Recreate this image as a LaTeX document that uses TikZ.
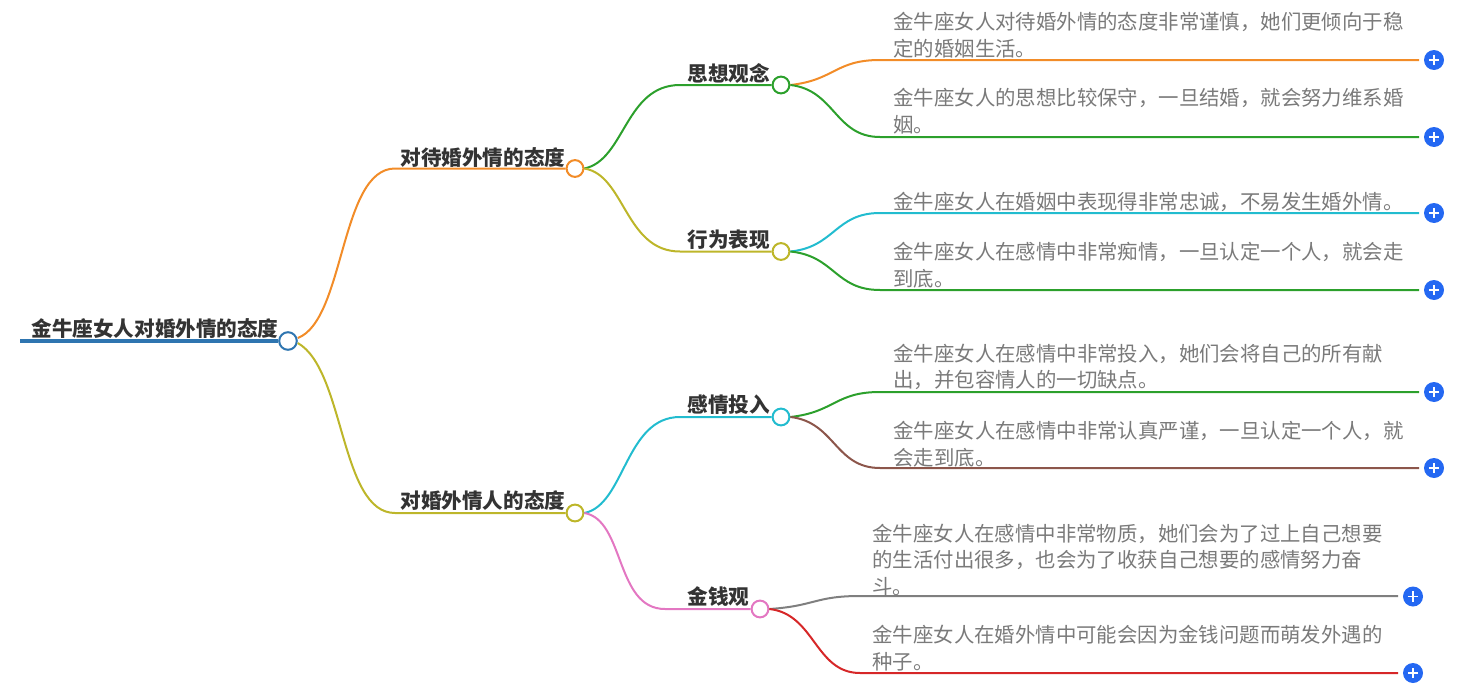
\documentclass[tikz,border=0pt]{standalone}
\usepackage{fontspec}
\setmainfont{Noto Sans CJK SC}
\definecolor{cblue}{HTML}{2E75B0}
\definecolor{corange}{HTML}{F28C28}
\definecolor{colive}{HTML}{BDB62A}
\definecolor{cgreen}{HTML}{2CA02C}
\definecolor{ccyan}{HTML}{22BCCF}
\definecolor{cbrown}{HTML}{8C564B}
\definecolor{cpink}{HTML}{E377C2}
\definecolor{cgray}{HTML}{7F7F7F}
\definecolor{cred}{HTML}{D62728}
\definecolor{cplus}{HTML}{2468F2}
\tikzset{
  x=0.5pt,y=-0.5pt,
  headtext/.style={inner sep=0pt,anchor=base west,font=\fontsize{10.3pt}{12pt}\selectfont\bfseries,text=black!80},
  leaftext/.style={inner sep=0pt,anchor=west,align=left,font=\fontsize{10.2pt}{13.4pt}\selectfont,text=black!52},
  dot/.style={circle,draw=#1,fill=white,line width=1pt,minimum size=8.4pt,inner sep=0pt},
  link/.style={draw=#1,line width=1pt},
  plus/.style={circle,fill=cplus,minimum size=10pt,inner sep=0pt},
}
\newcommand{\plusmark}[1]{\draw[white,line width=0.8pt] ([xshift=-2.6pt]#1.center) -- ([xshift=2.6pt]#1.center) ([yshift=-2.6pt]#1.center) -- ([yshift=2.6pt]#1.center);}
\begin{document}
\begin{tikzpicture}
\useasboundingbox (0,0) rectangle (1474,685);
% links' free ends
\coordinate (rs) at (20,341);
\foreach \n/\x/\y in {e1/1419/60,e2/1419/137,e3/1419/213,e4/1419/290,e5/1419/392,e6/1419/468,e7/1398/596,e8/1398/673}{\coordinate (\n) at (\x,\y);}
% hubs
\node[dot=cblue,minimum size=8.8pt] (root) at (288,341) {};
\node[dot=corange] (a) at (575,168.5) {};
\node[dot=colive] (b) at (575,513) {};
\node[dot=cgreen] (a1) at (781,85) {};
\node[dot=colive] (a2) at (781,251.5) {};
\node[dot=ccyan] (b1) at (781,417) {};
\node[dot=cpink] (b2) at (760,609) {};
% connectors
\draw[link=cblue,line width=2.4pt] (rs) -- (root.west);
\draw[link=corange] (root.east) ++(0,-3) .. controls (345,320) and (340,168.5) .. (395,168.5) -- (a.west);
\draw[link=colive] (root.east) ++(0,2) .. controls (345,370) and (340,513) .. (395,513) -- (b.west);
\draw[link=cgreen] (a.east) .. controls (625,160) and (625,85) .. (680,85) -- (a1.west);
\draw[link=colive] (a.east) .. controls (625,175) and (625,251.5) .. (680,251.5) -- (a2.west);
\draw[link=ccyan] (b.east) .. controls (625,505) and (625,417) .. (680,417) -- (b1.west);
\draw[link=cpink] (b.east) .. controls (625,520) and (615,609) .. (665,609) -- (b2.west);
\draw[link=corange] (a1.east) .. controls (835,80) and (835,60) .. (880,60) -- (e1);
\draw[link=cgreen] (a1.east) .. controls (835,90) and (835,137) .. (880,137) -- (e2);
\draw[link=ccyan] (a2.east) .. controls (835,247) and (835,213) .. (880,213) -- (e3);
\draw[link=cgreen] (a2.east) .. controls (835,256) and (835,290) .. (880,290) -- (e4);
\draw[link=cgreen] (b1.east) .. controls (835,412) and (835,392) .. (880,392) -- (e5);
\draw[link=cbrown] (b1.east) .. controls (835,422) and (835,468) .. (880,468) -- (e6);
\draw[link=cgray] (b2.east) .. controls (815,606) and (815,596) .. (860,596) -- (e7);
\draw[link=cred] (b2.east) .. controls (815,614) and (815,673) .. (860,673) -- (e8);
% heading text
\node[headtext] (troot) at (31,336.5) {金牛座女人对婚外情的态度};
\node[headtext] (ta) at (400,165) {对待婚外情的态度};
\node[headtext] (tb) at (400,508) {对婚外情人的态度};
\node[headtext] (ta1) at (687,81.5) {思想观念};
\node[headtext] (ta2) at (687,247.5) {行为表现};
\node[headtext] (tb1) at (687,412.5) {感情投入};
\node[headtext] (tb2) at (687,604) {金钱观};
% leaf text
\node[leaftext] (l1) at (893,35.5) {金牛座女人对待婚外情的态度非常谨慎，她们更倾向于稳\\定的婚姻生活。};
\node[leaftext] (l2) at (893,111.5) {金牛座女人的思想比较保守，一旦结婚，就会努力维系婚\\姻。};
\node[leaftext] (l3) at (893,202) {金牛座女人在婚姻中表现得非常忠诚，不易发生婚外情。};
\node[leaftext] (l4) at (893,265.5) {金牛座女人在感情中非常痴情，一旦认定一个人，就会走\\到底。};
\node[leaftext] (l5) at (893,367) {金牛座女人在感情中非常投入，她们会将自己的所有献\\出，并包容情人的一切缺点。};
\node[leaftext] (l6) at (893,444) {金牛座女人在感情中非常认真严谨，一旦认定一个人，就\\会走到底。};
\node[leaftext] (l7) at (872,560) {金牛座女人在感情中非常物质，她们会为了过上自己想要\\的生活付出很多，也会为了收获自己想要的感情努力奋\\斗。};
\node[leaftext] (l8) at (872,648.5) {金牛座女人在婚外情中可能会因为金钱问题而萌发外遇的\\种子。};
% plus buttons
\foreach \n/\x/\y in {p1/1434/60,p2/1434/137,p3/1434/213,p4/1434/290,p5/1434/392,p6/1434/468,p7/1413/596.5,p8/1413/673}{
  \node[plus] (\n) at (\x,\y) {};
  \plusmark{\n}
}
\end{tikzpicture}
\end{document}
